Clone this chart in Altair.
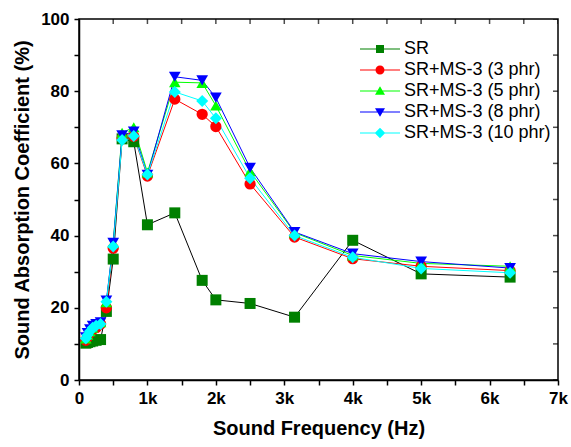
import altair as alt
import pandas as pd

freq = [100, 125, 160, 200, 250, 315, 400, 500, 630, 800, 1000, 1400, 1800, 2000, 2500, 3150, 4000, 5000, 6300]
sr     = [10.2, 10.4, 10.6, 10.8, 11.0, 11.2, 19.0, 33.5, 66.8, 66.0, 43.0, 46.3, 27.6, 22.2, 21.2, 17.4, 38.7, 29.4, 28.5]
ms3_3  = [11.0, 12.0, 13.0, 14.0, 14.5, 15.5, 20.0, 36.5, 67.0, 67.5, 56.5, 77.8, 73.6, 70.2, 54.3, 39.6, 33.6, 31.5, 30.3]
ms3_5  = [11.5, 12.5, 13.5, 14.5, 15.5, 16.0, 21.5, 38.0, 68.5, 70.0, 57.5, 82.5, 82.3, 76.0, 57.8, 40.8, 34.5, 32.3, 31.5]
ms3_8  = [11.8, 13.0, 14.0, 15.0, 15.5, 16.0, 22.0, 38.0, 67.8, 68.8, 56.8, 84.0, 83.0, 78.2, 58.8, 41.0, 35.0, 32.8, 31.0]
ms3_10 = [11.5, 12.5, 13.5, 14.5, 15.0, 15.5, 21.7, 37.0, 66.5, 67.6, 56.9, 79.8, 77.3, 72.5, 55.9, 40.0, 34.0, 30.9, 29.7]

names = ["SR", "SR+MS-3 (3 phr)", "SR+MS-3 (5 phr)", "SR+MS-3 (8 phr)", "SR+MS-3 (10 phr)"]
series = [sr, ms3_3, ms3_5, ms3_8, ms3_10]
marker_colors = ["#008000", "#ff0000", "#00ff00", "#0000ff", "#00ffff"]
line_colors = ["#000000", "#ff0000", "#00ff00", "#0000ff", "#00ffff"]
shapes = ["square", "circle", "triangle-up", "triangle-down", "diamond"]
sizes = [121, 144, 196, 196, 225]

x_ticks = list(range(0, 7001, 500))
y_ticks = list(range(0, 101, 10))

LINE = "M-4,-0.1H4V0.1H-4Z "
legend_paths = [
    LINE + "M-0.8,-0.8H0.8V0.8H-0.8Z",
    LINE + "M-0.9,0A0.9,0.9 0 1,1 0.9,0A0.9,0.9 0 1,1 -0.9,0Z",
    LINE + "M0,-0.95L1,0.75L-1,0.75Z",
    LINE + "M0,0.95L-1,-0.75L1,-0.75Z",
    LINE + "M0,-1.05L1.05,0L0,1.05L-1.05,0Z",
]

rows = []
for i, (name, vals) in enumerate(zip(names, series)):
    for f, v in zip(freq, vals):
        rows.append({"series": name, "idx": i, "freq": f, "value": v})
df = pd.DataFrame(rows)

W, H = 479, 361
x_scale = alt.Scale(domain=[0, 7000], nice=False)
y_scale = alt.Scale(domain=[0, 100], nice=False)

x_axis = alt.Axis(
    values=x_ticks, title="Sound Frequency (Hz)", labelFlush=False, labelOverlap=False,
    labelExpr="datum.value % 1000 == 0 ? (datum.value == 0 ? '0' : (datum.value / 1000) + 'k') : ''",
    labelPadding=5, titlePadding=12)
y_axis = alt.Axis(
    values=y_ticks, title="Sound Absorption Coefficient (%)", labelOverlap=False,
    labelExpr="datum.value % 20 == 0 ? datum.label : ''",
    labelPadding=5, titlePadding=8)

x_enc = alt.X("freq:Q", scale=x_scale, axis=x_axis)
y_enc = alt.Y("value:Q", scale=y_scale, axis=y_axis)

base = alt.Chart(df)

lines = base.mark_line(strokeWidth=1).encode(
    x=x_enc, y=y_enc,
    stroke=alt.Stroke("series:N", scale=alt.Scale(domain=names, range=line_colors), legend=None),
    detail="series:N",
)

points = base.mark_point(filled=True, opacity=1, strokeWidth=0).encode(
    x=x_enc, y=y_enc,
    color=alt.Color("series:N", scale=alt.Scale(domain=names, range=marker_colors), legend=None),
    shape=alt.Shape("series:N", scale=alt.Scale(domain=names, range=shapes), legend=None),
    size=alt.Size("series:N", scale=alt.Scale(domain=names, range=sizes), legend=None),
    order=alt.Order("idx:Q"),
)

leg = alt.Legend(title=None, orient="none", legendX=292, legendY=21)
legend_layer = base.transform_filter("false").mark_point(filled=True, opacity=1).encode(
    x=x_enc, y=y_enc,
    color=alt.Color("series:N", scale=alt.Scale(domain=names, range=marker_colors), legend=leg),
    shape=alt.Shape("series:N", scale=alt.Scale(domain=names, range=legend_paths), legend=leg),
)

right_ticks = alt.Chart(pd.DataFrame({"value": y_ticks})).mark_tick(
    clip=True, size=10, thickness=1.5, color="black").encode(
    y=y_enc, x=alt.value(W))
top_ticks = alt.Chart(pd.DataFrame({"freq": x_ticks})).mark_tick(
    clip=True, size=10, thickness=1.5, color="black").encode(
    x=x_enc, y=alt.value(0))

chart = alt.layer(lines, points, legend_layer, right_ticks, top_ticks).resolve_scale(
    color="independent", shape="independent"
).properties(
    width=W, height=H,
    padding={"left": 79, "top": 19, "right": 13, "bottom": 67},
    autosize=alt.AutoSizeParams(type="none"),
).configure_view(
    stroke="black", strokeWidth=1.5
).configure_axis(
    grid=False, domainColor="black", domainWidth=1.5, tickColor="black", tickWidth=1.5,
    tickSize=5, labelFont="Liberation Sans", labelFontWeight="bold", labelFontSize=17,
    labelColor="black", titleFont="Liberation Sans", titleFontSize=20,
    titleFontWeight="bold", titleColor="black",
).configure_legend(
    labelFont="Liberation Sans", labelFontSize=18, labelColor="black",
    symbolSize=100, symbolStrokeWidth=0, labelOffset=15, rowPadding=3, padding=0,
)

chart.save("out.html", embed_options={"renderer": "svg", "actions": False})
